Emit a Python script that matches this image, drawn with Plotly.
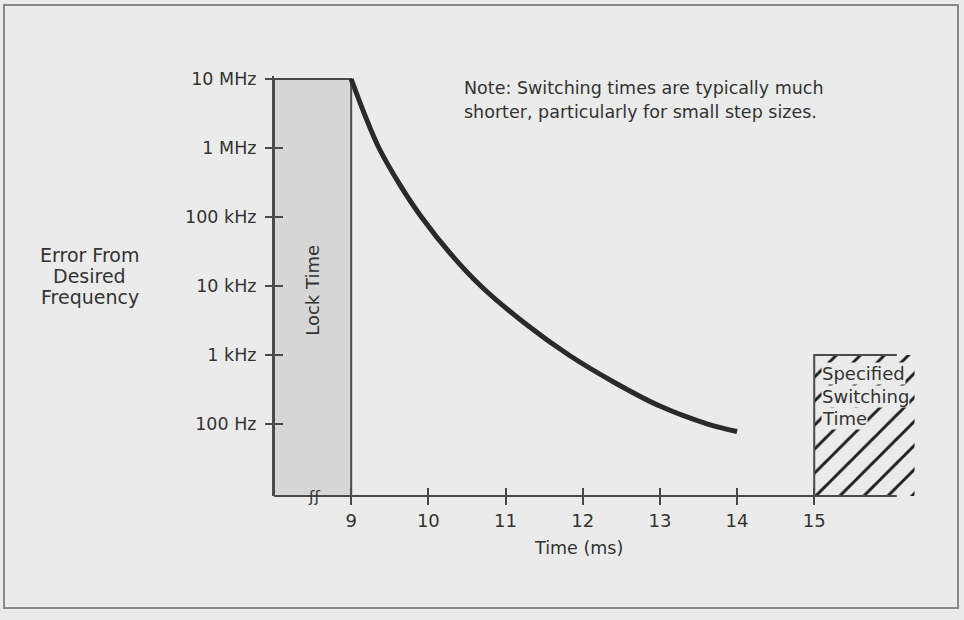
import plotly.graph_objects as go

# ---- data ----
time_ms = [9.0, 9.18, 9.36, 9.63, 9.91, 10.3, 10.68, 11.25, 11.82, 12.4, 13.0, 13.62, 14.0]
error_hz = [1.0e7, 2.95e6, 1.0e6, 2.95e5, 1.0e5, 2.82e4, 1.0e4, 2.88e3, 1.0e3, 407, 182, 100, 78]

lock_start, lock_end = 8.0, 9.0
lock_top_hz = 1.0e7
spec_start, spec_end = 15.0, 16.3
spec_top_hz = 1.0e3
axis_end = 16.07

x_tickvals = [9, 10, 11, 12, 13, 14, 15]
x_ticktext = ["9", "10", "11", "12", "13", "14", "15"]
y_tickvals = [1e7, 1e6, 1e5, 1e4, 1e3, 1e2]
y_ticktext = ["10 MHz", "1 MHz", "100 kHz", "10 kHz", "1 kHz", "100 Hz"]

x_range = [8.0, 16.5]
y_range = [0.957, 7.0435]   # log10 units
y_bottom = 10 ** y_range[0]

BG = "#ebebeb"
INK = "#333333"
AX = "#4a4a4a"
FONT = "DejaVu Sans"

fig = go.Figure()

# lock time box
fig.add_trace(go.Scatter(
    x=[lock_start, lock_end, lock_end, lock_start, lock_start],
    y=[y_bottom, y_bottom, lock_top_hz, lock_top_hz, y_bottom],
    mode="lines", fill="toself", fillcolor="#d6d6d6",
    line=dict(color=AX, width=2), hoverinfo="skip", showlegend=False))

# specified switching time (hatched)
fig.add_trace(go.Scatter(
    x=[spec_start, spec_end, spec_end, spec_start, spec_start],
    y=[y_bottom, y_bottom, spec_top_hz, spec_top_hz, y_bottom],
    mode="lines", fill="toself", fillcolor="rgba(0,0,0,0)",
    fillpattern=dict(shape="/", size=17, solidity=0.17, fgcolor="#1e1e1e",
                     fgopacity=1, bgcolor="rgba(0,0,0,0)"),
    line=dict(width=0, color="rgba(0,0,0,0)"), hoverinfo="skip", showlegend=False))
fig.add_trace(go.Scatter(
    x=[spec_start, spec_start, axis_end],
    y=[y_bottom, spec_top_hz, spec_top_hz],
    mode="lines", line=dict(color=AX, width=2), hoverinfo="skip", showlegend=False))

# error curve
fig.add_trace(go.Scatter(
    x=time_ms, y=error_hz, mode="lines",
    line=dict(color="#2a2a2a", width=5, shape="spline", smoothing=1.0),
    hoverinfo="skip", showlegend=False))

# invisible trace to activate overlay axes (inside tick halves)
fig.add_trace(go.Scatter(x=[8.0], y=[1e7], xaxis="x2", yaxis="y2", mode="markers",
                         marker=dict(opacity=0), hoverinfo="skip", showlegend=False))

fig.update_layout(
    width=964, height=620,
    margin=dict(l=274, r=34, t=76, b=124),
    paper_bgcolor=BG, plot_bgcolor="rgba(0,0,0,0)",
    font=dict(family=FONT, size=18, color=INK),
    xaxis=dict(range=x_range, tickvals=x_tickvals, ticktext=x_ticktext,
               ticks="outside", ticklen=8, tickwidth=2, tickcolor=AX,
               showline=False, showgrid=False, zeroline=False,
               tickfont=dict(size=18, color=INK, family=FONT)),
    yaxis=dict(type="log", range=y_range, tickvals=y_tickvals, ticktext=y_ticktext,
               ticks="outside", ticklen=7, tickwidth=2, tickcolor=AX,
               showline=True, linecolor=AX, linewidth=2,
               showgrid=False, zeroline=False, ticklabelstandoff=5,
               tickfont=dict(size=17.5, color=INK, family=FONT)),
    xaxis2=dict(overlaying="x", anchor="y", range=x_range, tickvals=x_tickvals,
                ticks="inside", ticklen=8, tickwidth=2, tickcolor=AX,
                showticklabels=False, showline=False, showgrid=False, zeroline=False),
    yaxis2=dict(overlaying="y", anchor="x", type="log", range=y_range, tickvals=y_tickvals,
                ticks="inside", ticklen=9, tickwidth=2, tickcolor=AX,
                showticklabels=False, showline=False, showgrid=False, zeroline=False),
)

# x axis baseline and outer frame
fig.add_shape(type="line", xref="x", yref="paper", x0=x_range[0], x1=axis_end, y0=0, y1=0,
              line=dict(color=AX, width=2))
fig.add_shape(type="rect", xref="paper", yref="paper",
              x0=(4 - 274) / 656, x1=(958 - 274) / 656,
              y0=(496 - 608) / 420, y1=(496 - 5) / 420,
              line=dict(color="#888888", width=2))

def note(text, x, y, xref="x", yref="y", **kw):
    fig.add_annotation(text=text, x=x, y=y, xref=xref, yref=yref, showarrow=False,
                       font=dict(family=FONT, size=kw.pop("size", 17.5), color=INK), **kw)

# note
note("Note: Switching times are typically much", 10.436, 6.87, xanchor="left", yanchor="middle")
note("shorter, particularly for small step sizes.", 10.436, 6.52, xanchor="left", yanchor="middle")

# left label
for txt, ypx in [("Error From", 255), ("Desired", 276), ("Frequency", 297)]:
    note(txt, (90 - 274) / 656, (496 - ypx) / 420, xref="paper", yref="paper",
         xanchor="center", yanchor="middle", size=19)

# lock time
note("Lock Time", 8.5, 3.94, textangle=-90, xanchor="center", yanchor="middle", size=18)

# spec text
for txt, ly in [("Specified", 2.739), ("Switching", 2.406), ("Time", 2.087)]:
    note(txt, 15.09, ly, xanchor="left", yanchor="middle", bgcolor=BG, borderpad=0, size=18)

# axis title
note("Time (ms)", 11.94, (496 - 548) / 420, yref="paper", xanchor="center", yanchor="middle")

# axis break mark
note("ʃʃ", 8.52, y_range[0], xanchor="center", yanchor="middle", size=16)

fig.write_html("out.html")
